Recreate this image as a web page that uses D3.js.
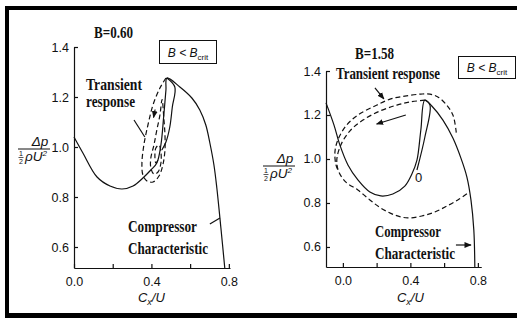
<!DOCTYPE html>
<html lang="en">
<head>
<meta charset="UTF-8">
<title>Surge transients, B=0.60 and B=1.58</title>
<script src="https://d3js.org/d3.v7.min.js"></script>
<style>
  body { margin: 0; background: #fff; }
  svg { display: block; }
  .serif { font-family: "Liberation Serif", "Times New Roman", serif; font-weight: bold; fill: #111; }
  .sans { font-family: "Liberation Sans", Arial, sans-serif; fill: #111; }
</style>
</head>
<body>
<svg id="chart" width="517" height="318"></svg>
<script>
// tick values (both panels)
const yTicks = [0.6, 0.8, 1.0, 1.2, 1.4];
const xTicks = [0.0, 0.4, 0.8];
const xMinor = [0.2, 0.6];

// B=0.60 panel: compressor characteristic, solid sliver, dashed transient spiral
const charA = [[0.0,1.04],[0.046,0.976],[0.119,0.88],[0.186,0.844],[0.248,0.832],[0.305,0.844],
  [0.356,0.876],[0.397,0.908],[0.428,0.936],[0.449,1.008],[0.464,1.128],[0.475,1.228],[0.48,1.276],
  [0.547,1.24],[0.609,1.196],[0.65,1.148],[0.681,1.088],[0.702,1.016],[0.723,0.928],[0.738,0.836],
  [0.759,0.676],[0.779,0.516]];
const sliverA = [[0.48,1.276],[0.521,1.24],[0.508,1.16],[0.495,1.08],[0.475,1.02],[0.454,0.988]];
const transA = [[0.475,1.276],[0.444,1.236],[0.408,1.168],[0.382,1.088],[0.361,1.008],[0.351,0.936],
  [0.356,0.888],[0.377,0.864],[0.408,0.86],[0.439,0.884],[0.459,0.928],[0.47,0.988],[0.47,1.048],
  [0.464,1.116],[0.455,1.19],[0.444,1.128],[0.428,1.068],[0.413,1.008],[0.397,0.956],[0.397,0.916],
  [0.413,0.892],[0.434,0.9],[0.449,0.936],[0.449,0.98],[0.439,1.008],[0.423,0.996],[0.418,0.964],
  [0.423,0.936],[0.434,0.948]];

// B=1.58 panel: characteristic, sliver from point 0, two dashed surge cycles
const charB = [[-0.1,1.255],[-0.053,1.155],[-0.018,1.064],[0.03,0.973],[0.089,0.905],[0.16,0.85],
  [0.225,0.832],[0.296,0.841],[0.367,0.877],[0.409,0.932],[0.439,0.995],[0.462,1.132],[0.486,1.268],
  [0.527,1.241],[0.593,1.177],[0.652,1.095],[0.699,1.005],[0.735,0.918],[0.759,0.814],[0.776,0.677],
  [0.782,0.509]];
const sliverB = [[0.486,1.268],[0.516,1.245],[0.486,1.1],[0.439,0.95]];
const innerB = [[0.486,1.268],[0.397,1.259],[0.32,1.245],[0.219,1.218],[0.119,1.177],[0.041,1.127],
  [-0.012,1.064],[-0.036,0.995],[-0.024,0.941],[0.018,0.895],[0.089,0.859],[0.16,0.814],[0.225,0.777],
  [0.308,0.745],[0.385,0.732],[0.468,0.741],[0.545,0.759],[0.616,0.786],[0.681,0.814],[0.741,0.845]];
const outerB = [[0.672,1.12],[0.652,1.2],[0.61,1.25],[0.563,1.282],[0.516,1.295],[0.462,1.295],
  [0.367,1.286],[0.284,1.273],[0.19,1.241],[0.089,1.2],[0.018,1.15],[-0.03,1.086],[-0.047,1.032],
  [-0.041,0.973],[-0.024,0.941]];

const svg = d3.select("#chart");
const ink = "#111";

svg.append("defs").append("marker")
  .attr("id", "head").attr("viewBox", "0 0 10 10")
  .attr("refX", 9).attr("refY", 5)
  .attr("markerWidth", 6).attr("markerHeight", 6)
  .attr("orient", "auto-start-reverse")
  .append("path").attr("d", "M0,1 L10,5 L0,9 z").attr("fill", ink);

// frame (right side is cut off in the scan)
svg.append("rect").attr("x", 5).attr("y", 6).attr("width", 512).attr("height", 4).attr("fill", "#000");
svg.append("rect").attr("x", 5).attr("y", 6).attr("width", 4).attr("height", 312).attr("fill", "#000");
svg.append("rect").attr("x", 5).attr("y", 313).attr("width", 512).attr("height", 5).attr("fill", "#000");

function panel(p) {
  const x = d3.scaleLinear().domain(p.xDom).range(p.xRange);
  const y = d3.scaleLinear().domain(p.yDom).range(p.yRange);
  const g = svg.append("g");

  const yAxis = g.append("g")
    .attr("transform", `translate(${p.xRange[0]},0)`)
    .call(d3.axisLeft(y).tickValues(yTicks).tickSize(-4).tickSizeOuter(0).tickPadding(5)
      .tickFormat(d3.format(".1f")));
  const xAxis = g.append("g")
    .attr("transform", `translate(0,${p.yRange[0]})`)
    .call(d3.axisBottom(x).tickValues(xTicks.concat(xMinor)).tickSize(-4).tickSizeOuter(0).tickPadding(9)
      .tickFormat(d => xMinor.includes(d) ? "" : d3.format(".1f")(d)));
  [yAxis, xAxis].forEach(a => {
    a.selectAll("path, line").attr("stroke", ink).attr("stroke-width", 1.2);
    a.selectAll("text").attr("font-family", "Liberation Sans, Arial, sans-serif")
      .attr("font-size", 12.5).attr("fill", ink);
  });

  const line = d3.line().x(d => x(d[0])).y(d => y(d[1])).curve(d3.curveCatmullRom.alpha(0.5));
  const draw = (data, dash) => g.append("path").datum(data).attr("d", line)
    .attr("fill", "none").attr("stroke", ink).attr("stroke-width", 1.2)
    .attr("stroke-dasharray", dash ? "5,3" : null);

  draw(p.char, false);
  draw(p.sliver, false);
  p.dashed.forEach(d => draw(d, true));

  p.pointers.forEach(s => {
    g.append("line")
      .attr("x1", x(s[0][0])).attr("y1", y(s[0][1]))
      .attr("x2", x(s[1][0])).attr("y2", y(s[1][1]))
      .attr("stroke", ink).attr("stroke-width", 1.2)
      .attr("marker-end", s[2] ? "url(#head)" : null);
  });

  // axis title C_x/U
  const xt = g.append("text").attr("class", "sans").attr("font-style", "italic").attr("font-size", 13)
    .attr("x", x(0.4)).attr("y", 302).attr("text-anchor", "middle");
  xt.append("tspan").text("C");
  xt.append("tspan").attr("font-size", 9).attr("dy", 3).text("x");
  xt.append("tspan").attr("dy", -3).text("/U");

  // axis title Δp / ½ρU²
  const f = p.frac;
  g.append("text").attr("class", "sans").attr("font-style", "italic").attr("font-size", 13.5)
    .attr("x", f.cx + 6).attr("y", f.y - 3).attr("text-anchor", "middle").text("Δp");
  g.append("line").attr("x1", f.cx - 16).attr("x2", f.cx + 16).attr("y1", f.y).attr("y2", f.y)
    .attr("stroke", ink).attr("stroke-width", 1);
  g.append("text").attr("class", "sans").attr("font-size", 7).attr("x", f.cx - 13).attr("y", f.y + 7)
    .attr("text-anchor", "middle").text("1");
  g.append("line").attr("x1", f.cx - 15.5).attr("x2", f.cx - 10.5).attr("y1", f.y + 8.5).attr("y2", f.y + 8.5)
    .attr("stroke", ink).attr("stroke-width", 0.7);
  g.append("text").attr("class", "sans").attr("font-size", 7).attr("x", f.cx - 13).attr("y", f.y + 15)
    .attr("text-anchor", "middle").text("2");
  const den = g.append("text").attr("class", "sans").attr("font-style", "italic").attr("font-size", 13.5)
    .attr("x", f.cx - 9).attr("y", f.y + 12);
  den.append("tspan").text("ρU");
  den.append("tspan").attr("font-size", 8).attr("dy", -5).text("2");

  // title
  g.append("text").attr("class", "serif").attr("font-size", 16)
    .attr("x", p.title[1]).attr("y", p.title[2]).attr("textLength", 39)
    .attr("lengthAdjust", "spacingAndGlyphs").text(p.title[0]);

  // B < B_crit box
  const b = p.box;
  g.append("rect").attr("x", b[0]).attr("y", b[1]).attr("width", b[2]).attr("height", b[3])
    .attr("fill", "#fff").attr("stroke", ink).attr("stroke-width", 1);
  const bt = g.append("text").attr("class", "sans").attr("font-style", "italic").attr("font-size", 12)
    .attr("x", b[0] + b[2] / 2).attr("y", b[1] + b[3] / 2 + 4.5).attr("text-anchor", "middle");
  bt.append("tspan").text("B < B");
  bt.append("tspan").attr("font-size", 8).attr("dy", 3).attr("font-style", "normal").text("crit");

  // serif labels
  p.labels.forEach(l => {
    g.append("text").attr("class", "serif").attr("font-size", 16)
      .attr("x", l[1]).attr("y", l[2]).attr("textLength", l[3])
      .attr("lengthAdjust", "spacingAndGlyphs").text(l[0]);
  });
  return {x, y, g};
}

panel({
  xDom: [0, 0.806], xRange: [74, 230],
  yDom: [0.516, 1.4], yRange: [268, 47],
  char: charA, sliver: sliverA, dashed: [transA],
  pointers: [
    [[0.31, 1.108], [0.366, 1.04], false],
    [[0.702, 0.692], [0.754, 0.716], false],
    [[0.419, 1.15], [0.411, 1.118], true]
  ],
  frac: {cx: 34, y: 149},
  title: ["B=0.60", 94, 38],
  box: [159.5, 40.5, 57, 23],
  labels: [["Transient", 86, 90, 56], ["response", 86, 107, 49],
           ["Compressor", 128, 232, 69], ["Characteristic", 128, 254, 80]]
});

const pb = panel({
  xDom: [-0.1, 0.82], xRange: [326, 481.25],
  yDom: [0.509, 1.4], yRange: [267, 71],
  char: charB, sliver: sliverB, dashed: [innerB, outerB],
  pointers: [
    [[0.19, 1.323], [0.243, 1.273], true],
    [[0.373, 1.2], [0.2, 1.159], true],
    [[0.67, 0.609], [0.759, 0.609], true]
  ],
  frac: {cx: 279, y: 166},
  title: ["B=1.58", 355, 59],
  box: [458.5, 56.5, 57, 22],
  labels: [["Transient response", 336, 79, 104],
           ["Compressor", 375, 237, 66], ["Characteristic", 375, 259, 80]]
});

// operating point marker "0"
pb.g.append("text").attr("class", "sans").attr("font-size", 13)
  .attr("x", pb.x(0.427)).attr("y", pb.y(0.897)).text("0");
</script>
</body>
</html>
